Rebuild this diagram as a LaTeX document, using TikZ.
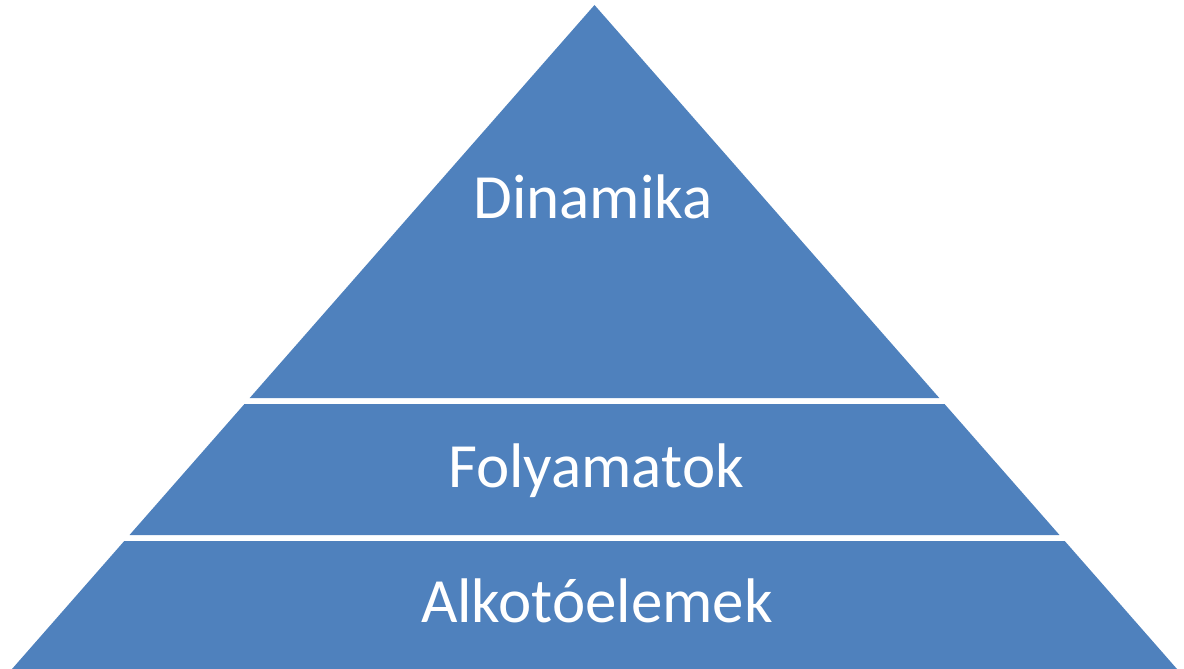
\documentclass[tikz,border=0pt]{standalone}
\usepackage{fontspec}
\setmainfont{Carlito}
\definecolor{pyrblue}{HTML}{4F81BD}
\begin{document}
\begin{tikzpicture}[x=1pt,y=-1pt,
  layer/.style={fill=pyrblue,draw=none},
  lbl/.style={text=white,font=\fontsize{63}{70}\selectfont,anchor=base,inner sep=0pt}]
\useasboundingbox (0,0) rectangle (1184,669);
\coordinate (apex) at (594.5,5);
\coordinate (bl) at (12,669);
\coordinate (br) at (1177,669);
% slope: half-width per px of height
\def\sl{0.8773}
% top layer: apex to y=398
\fill[layer] (apex) -- ({594.5-\sl*393},398) -- ({594.5+\sl*393},398) -- cycle;
% middle layer: y=404 to y=535
\fill[layer] ({594.5-\sl*399},404) -- ({594.5+\sl*399},404) -- ({594.5+\sl*530},535) -- ({594.5-\sl*530},535) -- cycle;
% bottom layer: y=541 to 669
\fill[layer] ({594.5-\sl*536},541) -- ({594.5+\sl*536},541) -- (br) -- (bl) -- cycle;
\node[lbl] (dyn) at (593,218.5) {Dinamika};
\node[lbl] (proc) at (596,487) {Folyamatok};
\node[lbl] (comp) at (597,622) {Alkotóelemek};
\end{tikzpicture}
\end{document}
